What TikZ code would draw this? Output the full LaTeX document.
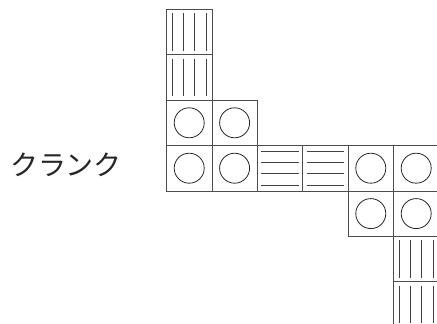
\documentclass[tikz,border=0pt]{standalone}
\usepackage{fontspec}
\usetikzlibrary{calc}
\newfontfamily\jpfont{Noto Sans CJK JP}
\begin{document}
\begin{tikzpicture}[x=1pt,y=-1pt,
  frame/.style={draw=black!70,line width=0.8pt},
  cellbox/.style={frame,minimum width=45.4pt,minimum height=45.4pt,inner sep=0pt,outer sep=0pt,anchor=north west},
  cellc/.style={cellbox,path picture={\draw[black!85,line width=0.8pt] (path picture bounding box.center) circle[radius=15pt];}},
  cellv/.style={cellbox,path picture={
     \foreach \f in {0.125,0.375,0.625,0.875}{
       \draw[black!75,line width=0.8pt]
         ($(path picture bounding box.north west)!\f!(path picture bounding box.north east)+(0,-4pt)$) --
         ($(path picture bounding box.south west)!\f!(path picture bounding box.south east)+(0,4pt)$);}}},
  cellh/.style={cellbox,path picture={
     \foreach \f in {0.125,0.375,0.625,0.875}{
       \draw[black!75,line width=0.8pt]
         ($(path picture bounding box.north west)!\f!(path picture bounding box.south west)+(4pt,0)$) --
         ($(path picture bounding box.north east)!\f!(path picture bounding box.south east)+(-4pt,0)$);}}},
]
\useasboundingbox (0,0) rectangle (437,324);
\clip (0,0) rectangle (437,324);
% column x positions: 166.5 + 45.4*i ; row y positions: 9.3 + 45.4*j
\node[cellv] (v00) at (166.5,9.3) {};
\node[cellv] (v01) at (166.5,54.7) {};
\node[cellc] (c02) at (166.5,100.1) {};
\node[cellc] (c12) at (211.9,100.1) {};
\node[cellc] (c03) at (166.5,145.5) {};
\node[cellc] (c13) at (211.9,145.5) {};
\node[cellh] (h23) at (257.3,145.5) {};
\node[cellh] (h33) at (302.7,145.5) {};
\node[cellc] (c43) at (348.1,145.5) {};
\node[cellc] (c53) at (393.5,145.5) {};
\node[cellc] (c44) at (348.1,190.9) {};
\node[cellc] (c54) at (393.5,190.9) {};
\node[cellv] (v55) at (393.5,236.3) {};
\node[cellv] (v56) at (393.5,281.7) {};
\node[font=\jpfont\fontsize{28}{33}\selectfont,text=black!85,inner sep=0pt] (label) at (66,164.5) {クランク};
\end{tikzpicture}
\end{document}
